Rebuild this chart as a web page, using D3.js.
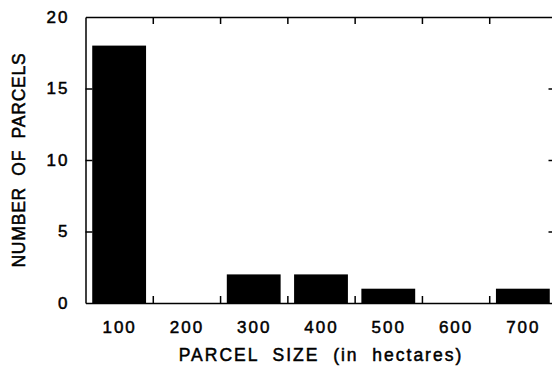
<!DOCTYPE html>
<html>
<head>
<meta charset="utf-8">
<script src="https://cdn.jsdelivr.net/npm/d3@7"></script>
<style>
  body { margin: 0; background: #fff; }
  svg { display: block; }
  text { font-family: "Liberation Sans", Arial, sans-serif; fill: #000; stroke: #000; stroke-width: 0.5px; }
</style>
</head>
<body>
<div id="chart"></div>
<script>
// DATA
////////////////////////////
var binCenters = [100, 200, 300, 400, 500, 600, 700];   // parcel size bins (ha)
var parcelCounts = [18, 0, 2, 2, 1, 0, 1];               // number of parcels per bin
var binEdges = [150, 250, 350, 450, 550, 650];            // tick marks between bins
var yTicks = [0, 5, 10, 15, 20];

// SETUP
////////////////////////////
var width = 552,
    height = 369;

var x0 = 85.5, x1 = 556.5,   // plot runs past the right edge of the window
    y0 = 303, y1 = 17;

var x = d3.scaleLinear().domain([50, 750]).range([x0, x1]);
var y = d3.scaleLinear().domain([0, 20]).range([y0, y1]);

var svg = d3.select("#chart").append("svg")
    .attr("width", width)
    .attr("height", height);

// bars (80% of the bin width)
var binW = x(150) - x(50);
svg.selectAll("rect.bar")
  .data(binCenters)
  .enter().append("rect")
    .attr("class", "bar")
    .attr("x", function(d) { return x(d) - binW * 0.4; })
    .attr("width", binW * 0.8)
    .attr("y", function(d, i) { return y(parcelCounts[i]); })
    .attr("height", function(d, i) { return y0 - y(parcelCounts[i]); })
    .style("fill", "#000");

// frame: axes with inward ticks on all four sides
function styleAxis(g) {
  g.selectAll(".domain").attr("stroke", "#000").attr("stroke-width", 1.5);
  g.selectAll(".tick line").attr("stroke", "#000").attr("stroke-width", 1.5);
}

function styleLabels(g) {
  g.selectAll("text")
    .style("font-family", "'Liberation Sans', Arial, sans-serif")
    .style("font-size", "17px")
    .style("letter-spacing", "2px")
    .attr("fill", "#000");
}

svg.append("g")
  .attr("transform", "translate(0," + y0 + ")")
  .call(d3.axisBottom(x).tickValues(binEdges).tickSizeInner(-7).tickSizeOuter(0).tickFormat(""))
  .call(styleAxis);

svg.append("g")
  .attr("transform", "translate(0," + y1 + ")")
  .call(d3.axisTop(x).tickValues(binEdges).tickSizeInner(-7).tickSizeOuter(0).tickFormat(""))
  .call(styleAxis);

svg.append("g")
  .attr("transform", "translate(" + x0 + ",0)")
  .call(d3.axisLeft(y).tickValues(yTicks).tickSizeInner(-7).tickSizeOuter(0).tickPadding(16))
  .call(styleAxis)
  .call(styleLabels)
  .call(function(g) {
    g.selectAll(".tick").filter(function(d) { return d === 0 || d === 20; })
      .select("line").remove();
  });

svg.append("g")
  .attr("transform", "translate(" + x1 + ",0)")
  .call(d3.axisRight(y).tickValues([5, 10, 15]).tickSizeInner(-8).tickSizeOuter(0).tickFormat(""))
  .call(styleAxis);

// x labels at bin centres (no tick marks)
svg.append("g")
  .attr("transform", "translate(0," + y0 + ")")
  .call(d3.axisBottom(x).tickValues(binCenters).tickSize(0).tickPadding(18))
  .call(function(g) { g.select(".domain").remove(); })
  .call(styleLabels);

// axis titles
svg.append("text")
  .attr("x", (x0 + x1) / 2)
  .attr("y", 361)
  .attr("text-anchor", "middle")
  .style("font-size", "17.5px")
  .style("letter-spacing", "2px")
  .style("white-space", "pre")
  .text("PARCEL  SIZE  (in  hectares)");

svg.append("text")
  .attr("transform", "translate(25," + (y0 + y1) / 2 + ") rotate(-90)")
  .attr("text-anchor", "middle")
  .style("font-size", "17.5px")
  .style("letter-spacing", "0.8px")
  .style("white-space", "pre")
  .text("NUMBER  OF  PARCELS");
</script>
</body>
</html>
